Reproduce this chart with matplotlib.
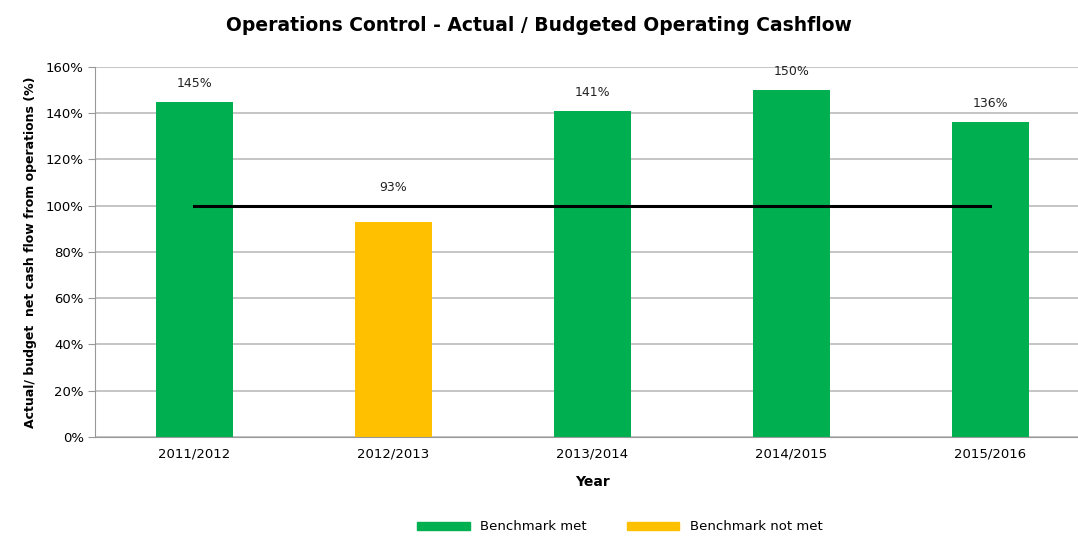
import matplotlib.pyplot as plt
from matplotlib.patches import Patch

years = ['2011/2012', '2012/2013', '2013/2014', '2014/2015', '2015/2016']
ratios = [145, 93, 141, 150, 136]
benchmark = 100
met_color = '#00B050'
not_met_color = '#FFC000'

colors = [met_color if v >= benchmark else not_met_color for v in ratios]

fig = plt.figure(figsize=(10.78, 5.36), dpi=100)
# plot area runs a bit past the right edge of the picture, as in the original
ax = fig.add_axes([0.088, 0.185, 0.923, 0.69])

x = range(len(years))
ax.bar(x, ratios, width=0.39, color=colors, zorder=2)
ax.plot([0, len(years) - 1], [benchmark, benchmark], color='black', lw=2.2, zorder=3)

# labels sit above the bar, or above the benchmark line when the bar is below it
for i, v in enumerate(ratios):
    ax.text(i, max(v, benchmark) + 8, f'{v}%', ha='center', va='center', fontsize=9, color='#222222')

ax.set_xlim(-0.5, len(years) - 0.5)
ax.set_ylim(0, 160)
ax.set_yticks(range(0, 161, 20))
ax.set_yticklabels([f'{t}%' for t in range(0, 161, 20)], fontsize=9.5)
ax.set_xticks(list(x))
ax.set_xticklabels(years, fontsize=9.5)
ax.grid(axis='y', color='#BBBBBB', lw=1.2, zorder=0)

for s in ['top', 'right']:
    ax.spines[s].set_visible(False)
ax.spines['left'].set_color('#999999')
ax.spines['bottom'].set_color('#999999')
ax.tick_params(axis='y', length=5, color='#999999', pad=3)
ax.tick_params(axis='x', length=0, pad=8)

ax.set_xlabel('Year', fontsize=10, fontweight='bold', labelpad=10)
ax.set_ylabel('Actual/ budget  net cash flow from operations (%)', fontsize=9, fontweight='bold', labelpad=6)
fig.suptitle('Operations Control - Actual / Budgeted Operating Cashflow', fontsize=13.5,
             fontweight='bold', y=0.97)

handles = [Patch(color=met_color, label='Benchmark met'),
           Patch(color=not_met_color, label='Benchmark not met')]
fig.legend(handles=handles, loc='center', bbox_to_anchor=(0.575, 0.017), ncol=2,
           frameon=False, fontsize=9.5, handlelength=4, handleheight=0.6, columnspacing=3)

fig.savefig('out.png', dpi=100)
